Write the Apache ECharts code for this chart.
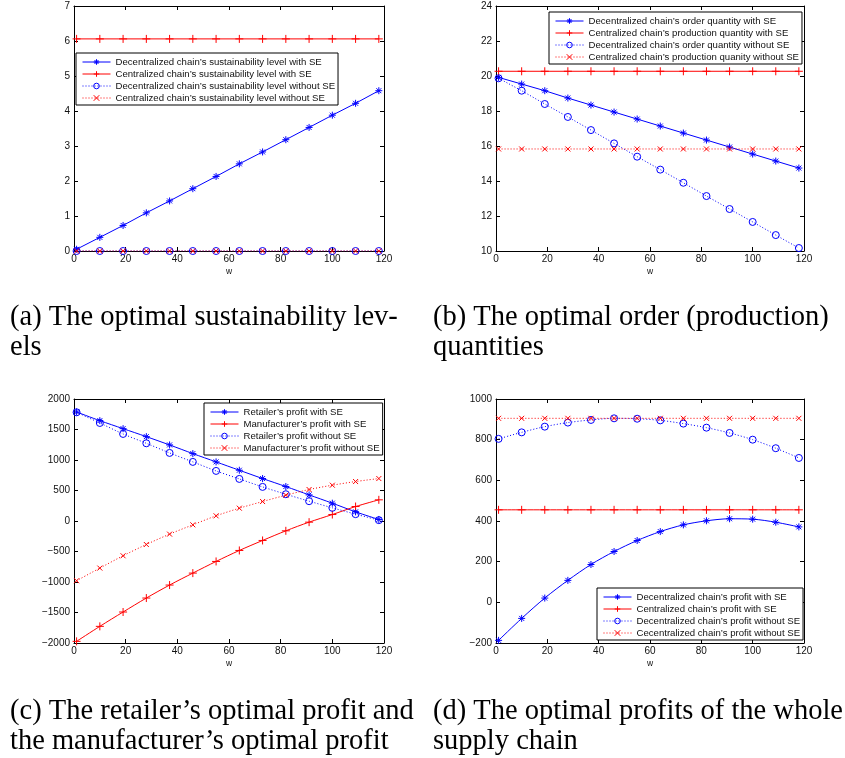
<!DOCTYPE html>
<html><head><meta charset="utf-8">
<script src="https://cdn.jsdelivr.net/npm/echarts@6/dist/echarts.min.js"></script>
<style>html,body{margin:0;padding:0;background:#fff}#c{width:845px;height:758px}</style>
</head><body><div id="c"></div>
<script>
// ---- data ----
const wValues = [1, 10, 19, 28, 37, 46, 55, 64, 73, 82, 91, 100, 109, 118];
const xTicks = [0, 20, 40, 60, 80, 100, 120];

// (a) sustainability levels
const aNames = ["Decentralized chain\u2019s sustainability level with SE", "Centralized chain\u2019s sustainability level with SE", "Decentralized chain\u2019s sustainability level without SE", "Centralized chain\u2019s sustainability level without SE"];
const aDecSE = [0.05, 0.39, 0.73, 1.09, 1.43, 1.78, 2.13, 2.49, 2.83, 3.18, 3.53, 3.88, 4.22, 4.58];
const aCenSE = [6.06, 6.06, 6.06, 6.06, 6.06, 6.06, 6.06, 6.06, 6.06, 6.06, 6.06, 6.06, 6.06, 6.06];
const aDecNo = [0, 0, 0, 0, 0, 0, 0, 0, 0, 0, 0, 0, 0, 0];
const aCenNo = [0, 0, 0, 0, 0, 0, 0, 0, 0, 0, 0, 0, 0, 0];
const aYTicks = [0, 1, 2, 3, 4, 5, 6, 7];

// (b) order / production quantities
const bNames = ["Decentralized chain\u2019s order quantity with SE", "Centralized chain\u2019s production quantity with SE", "Decentralized chain\u2019s order quantity without SE", "Centralized chain\u2019s production quanity without SE"];
const bDecSE = [19.92, 19.54, 19.16, 18.74, 18.34, 17.94, 17.54, 17.14, 16.74, 16.34, 15.94, 15.54, 15.14, 14.74];
const bCenSE = [20.27, 20.27, 20.27, 20.27, 20.27, 20.27, 20.27, 20.27, 20.27, 20.27, 20.27, 20.27, 20.27, 20.27];
const bDecNo = [19.87, 19.16, 18.40, 17.66, 16.91, 16.15, 15.39, 14.65, 13.90, 13.14, 12.40, 11.66, 10.91, 10.17];
const bCenNo = [15.83, 15.83, 15.83, 15.83, 15.83, 15.83, 15.83, 15.83, 15.83, 15.83, 15.83, 15.83, 15.83, 15.83];
const bYTicks = [10, 12, 14, 16, 18, 20, 22, 24];

// (c) retailer / manufacturer profit
const cNames = ["Retailer\u2019s profit with SE", "Manufacturer\u2019s profit with SE", "Retailer\u2019s profit without SE", "Manufacturer\u2019s profit without SE"];
const cRetSE = [1787, 1645, 1514, 1383, 1247, 1105, 969, 832, 696, 565, 428, 292, 150, 25];
const cManSE = [-1973, -1727, -1492, -1263, -1050, -854, -663, -483, -319, -161, -19, 106, 237, 347];
const cRetNo = [1782, 1607, 1427, 1274, 1116, 969, 821, 690, 559, 439, 325, 216, 112, 14];
const cManNo = [-979, -772, -570, -385, -215, -63, 85, 210, 319, 423, 516, 587, 647, 696];
const cYTicks = [-2000, -1500, -1000, -500, 0, 500, 1000, 1500, 2000];

// (d) whole supply chain profit
const dNames = ["Decentralized chain\u2019s profit with SE", "Centralized chain\u2019s profit with SE", "Decentralized chain\u2019s profit without SE", "Cecentralized chain\u2019s profit without SE"];
const dDecSE = [-187, -79, 21, 108, 186, 250, 304, 348, 381, 401, 411, 409, 394, 371];
const dCenSE = [455, 455, 455, 455, 455, 455, 455, 455, 455, 455, 455, 455, 455, 455];
const dDecNo = [804, 836, 864, 884, 897, 905, 903, 895, 879, 859, 833, 800, 758, 710];
const dCenNo = [905, 905, 905, 905, 905, 905, 905, 905, 905, 905, 905, 905, 905, 905];
const dYTicks = [-200, 0, 200, 400, 600, 800, 1000];

const captions = [
  "(a) The optimal sustainability lev-\nels",
  "(b) The optimal order (production)\nquantities",
  "(c) The retailer\u2019s optimal profit and\nthe manufacturer\u2019s optimal profit",
  "(d) The optimal profits of the whole\nsupply chain"
];

// ---- styling ----
const BLUE = '#0000ff', RED = '#ff0000';
const STAR = 'path://M0,-10L0,10M-10,0L10,0M-7.1,-7.1L7.1,7.1M-7.1,7.1L7.1,-7.1';
const PLUS = 'path://M0,-10L0,10M-10,0L10,0';
const CROSS = 'path://M-10,-10L10,10M-10,10L10,-10';
const SANS = 'Liberation Sans, Arial, sans-serif';

const grids = [
  {left: 74, top: 6, width: 310, height: 245},
  {left: 496, top: 6, width: 308, height: 245},
  {left: 74, top: 399, width: 310, height: 244},
  {left: 496, top: 399, width: 308, height: 244}
];
const yTickSets = [aYTicks, bYTicks, cYTicks, dYTicks];
const seriesSets = [
  [aNames, [aDecSE, aCenSE, aDecNo, aCenNo]],
  [bNames, [bDecSE, bCenSE, bDecNo, bCenNo]],
  [cNames, [cRetSE, cManSE, cRetNo, cManNo]],
  [dNames, [dDecSE, dCenSE, dDecNo, dCenNo]]
];
const legendPos = [
  {left: 76, top: 53},
  {left: 549, top: 12},
  {left: 204, top: 403},
  {left: 597, top: 588}
];

const xAxes = [], yAxes = [], series = [], legends = [], titles = [];
const fmt = v => String(v).replace('-', '\u2212');

grids.forEach((g, i) => {
  const yt = yTickSets[i];
  const yMin = yt[0], yMax = yt[yt.length - 1], yInt = yt[1] - yt[0];
  const common = {
    axisLine: {show: true, onZero: false, lineStyle: {color: '#000', width: 1}},
    axisTick: {show: true, inside: true, length: 4, lineStyle: {color: '#000', width: 1}},
    splitLine: {show: false}
  };
  xAxes.push(Object.assign({
    type: 'value', gridIndex: i, position: 'bottom', min: xTicks[0], max: xTicks[xTicks.length - 1], interval: xTicks[1] - xTicks[0],
    axisLabel: {show: true, color: '#111', fontFamily: SANS, fontSize: 10, margin: 3},
    name: 'w', nameLocation: 'middle', nameGap: 16,
    nameTextStyle: {color: '#111', fontFamily: SANS, fontSize: 8.5}
  }, common));
  xAxes.push(Object.assign({
    type: 'value', gridIndex: i, position: 'top', min: xTicks[0], max: xTicks[xTicks.length - 1], interval: xTicks[1] - xTicks[0],
    axisLabel: {show: false}
  }, common));
  yAxes.push(Object.assign({
    type: 'value', gridIndex: i, position: 'left', min: yMin, max: yMax, interval: yInt,
    axisLabel: {show: true, color: '#111', fontFamily: SANS, fontSize: 10, margin: 4, formatter: fmt}
  }, common));
  yAxes.push(Object.assign({
    type: 'value', gridIndex: i, position: 'right', min: yMin, max: yMax, interval: yInt,
    axisLabel: {show: false}
  }, common));

  const [names, vals] = seriesSets[i];
  const styles = [
    {symbol: STAR, color: BLUE, type: 'solid', size: 7},
    {symbol: PLUS, color: RED, type: 'solid', size: 8},
    {symbol: 'circle', color: BLUE, type: [1, 2], size: 7},
    {symbol: CROSS, color: RED, type: [1, 2], size: 5}
  ];
  names.forEach((nm, k) => {
    const st = styles[k];
    series.push({
      name: nm, type: 'line', xAxisIndex: 2 * i, yAxisIndex: 2 * i,
      data: wValues.map((w, j) => [w, vals[k][j]]),
      symbol: st.symbol, symbolSize: st.size, showAllSymbol: true,
      smooth: (i >= 2) ? 0.3 : false,
      lineStyle: {color: st.color, width: 1, type: st.type},
      itemStyle: {color: st.symbol === 'circle' ? 'rgba(0,0,0,0)' : st.color, borderColor: st.color, borderWidth: 1},
      emphasis: {disabled: true},
      z: 2 + k
    });
  });
  legends.push({
    show: true, orient: 'vertical', left: legendPos[i].left, top: legendPos[i].top,
    data: names, itemWidth: 28, itemHeight: 7, itemGap: 2,
    padding: [4, 3, 2, 6],
    backgroundColor: '#fff', borderColor: '#000', borderWidth: 1, borderRadius: 0,
    selectedMode: false,
    itemStyle: {borderWidth: 1},
    lineStyle: {width: 1},
    textStyle: {color: '#111', fontFamily: SANS, fontSize: 9.6, lineHeight: 10}
  });
});

const capPos = [
  {left: 10, top: 303}, {left: 433, top: 303},
  {left: 10, top: 697}, {left: 433, top: 697}
];
captions.forEach((t, i) => {
  titles.push({
    text: t, left: capPos[i].left, top: capPos[i].top, padding: 0,
    textStyle: {fontFamily: 'Liberation Serif, Times New Roman, serif', fontSize: 28.5, fontWeight: 'normal', color: '#000', lineHeight: 30}
  });
});

const chart = echarts.init(document.getElementById('c'), null, {renderer: 'canvas'});
chart.setOption({
  animation: false,
  backgroundColor: '#fff',
  title: titles,
  grid: grids,
  xAxis: xAxes,
  yAxis: yAxes,
  legend: legends,
  series: series
});
</script>
</body></html>
